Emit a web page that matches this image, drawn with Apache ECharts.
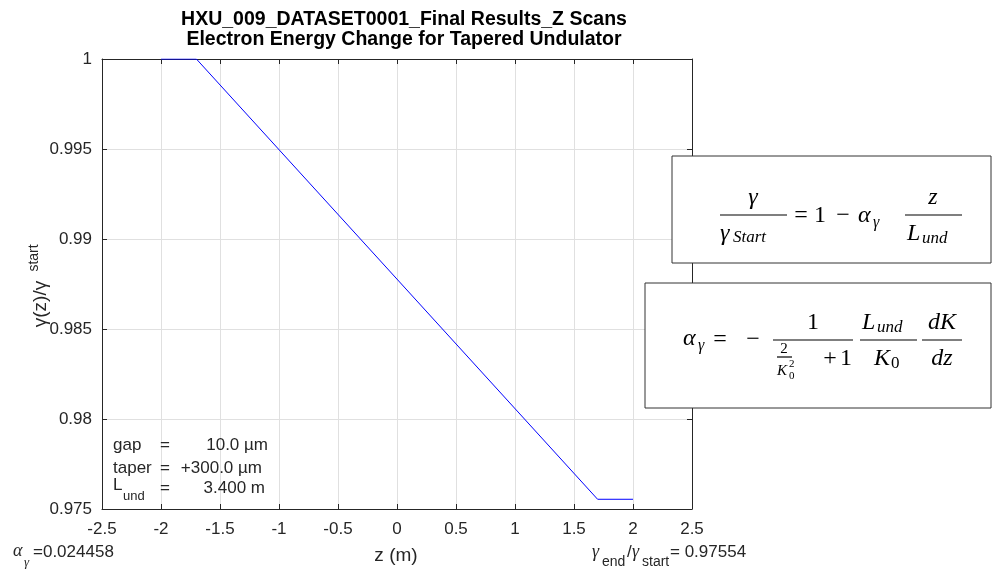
<!DOCTYPE html>
<html>
<head>
<meta charset="utf-8">
<script src="https://cdn.jsdelivr.net/npm/echarts@6/dist/echarts.min.js"></script>
<style>
  html, body { margin: 0; padding: 0; background: #fff; }
  #main { width: 992px; height: 571px; }
</style>
</head>
<body>
<div id="main"></div>
<script>
// z (m) и отношение gamma(z)/gamma_start
const zValues = [-2, -1.7, 1.7, 2];
const ratioValues = [1, 1, 0.97554, 0.97554];

// диапазоны осей
const xRange = [-2.5, 2.5, 0.5];
const yRange = [0.975, 1, 0.005];

// параметры в углу графика
const paramNames = ['gap', 'taper', 'L'];
const paramValues = ['10.0 µm', '+300.0 µm', '3.400 m'];
const alphaGamma = '=0.024458';
const gammaRatio = '= 0.97554';

const titleLines = ['HXU_009_DATASET0001_Final Results_Z Scans', 'Electron Energy Change for Tapered Undulator'];

const SANS = '"Liberation Sans", Arial, sans-serif';
const SERIF = '"Liberation Serif", "Times New Roman", serif';
const axisColor = '#262626';

let lineData = [];
zValues.forEach((z, i) => {
    lineData.push([z, ratioValues[i]]);
});

// текстовый элемент для graphic
function txt(x, y, s, font, align, extra) {
    return {
        type: 'text', x: x, y: y, z: 100, silent: true,
        style: Object.assign({
            text: s, font: font, fill: '#000',
            textAlign: align || 'left', textVerticalAlign: 'middle'
        }, extra || {})
    };
}
function bar(x1, x2, y) {
    return {
        type: 'line', z: 100, silent: true,
        shape: {x1: x1, y1: y, x2: x2, y2: y},
        style: {stroke: '#000', lineWidth: 1.2}
    };
}
function box(x, y, w, h) {
    return {
        type: 'rect', z: 90, silent: true,
        shape: {x: x, y: y, width: w, height: h},
        style: {fill: '#fff', stroke: '#333', lineWidth: 1}
    };
}

const mi = s => 'italic ' + s + 'px ' + SERIF;
const mr = s => s + 'px ' + SERIF;
const sf = s => s + 'px ' + SANS;

let graphics = [];

// заголовок
graphics.push(txt(404, 20, titleLines[0], 'bold 19.5px ' + SANS, 'center'));
graphics.push(txt(404, 40, titleLines[1], 'bold 19.5px ' + SANS, 'center'));

// подпись оси y (повернута)
graphics.push(Object.assign(txt(41, 304, 'γ(z)/γ', sf(19), 'center', {fill: axisColor}), {rotation: Math.PI / 2}));
graphics.push(Object.assign(txt(34, 258, 'start', sf(14), 'center', {fill: axisColor}), {rotation: Math.PI / 2}));

// подпись оси x
graphics.push(txt(396, 556, 'z (m)', sf(19), 'center', {fill: axisColor}));

// параметры внутри графика
const rowsY = [445, 468, 488];
graphics.push(txt(113, rowsY[0], paramNames[0], sf(17), 'left', {fill: axisColor}));
graphics.push(txt(113, rowsY[1], paramNames[1], sf(17), 'left', {fill: axisColor}));
graphics.push(txt(113, rowsY[2] - 3, paramNames[2], sf(17), 'left', {fill: axisColor}));
graphics.push(txt(123, rowsY[2] + 8, 'und', sf(13), 'left', {fill: axisColor}));
rowsY.forEach(y => graphics.push(txt(160, y, '=', sf(17), 'left', {fill: axisColor})));
graphics.push(txt(268, rowsY[0], paramValues[0], sf(17), 'right', {fill: axisColor}));
graphics.push(txt(262, rowsY[1], paramValues[1], sf(17), 'right', {fill: axisColor}));
graphics.push(txt(265, rowsY[2], paramValues[2], sf(17), 'right', {fill: axisColor}));

// подписи снизу
graphics.push(txt(13, 551, 'α', mi(18), 'left', {fill: axisColor}));
graphics.push(txt(24, 563, 'γ', mi(13), 'left', {fill: axisColor}));
graphics.push(txt(33, 552, alphaGamma, sf(17), 'left', {fill: axisColor}));

graphics.push(txt(592, 552, 'γ', mi(18), 'left', {fill: axisColor}));
graphics.push(txt(602, 562, 'end', sf(14), 'left', {fill: axisColor}));
graphics.push(txt(627, 552, '/', sf(17), 'left', {fill: axisColor}));
graphics.push(txt(632, 552, 'γ', mi(18), 'left', {fill: axisColor}));
graphics.push(txt(642, 562, 'start', sf(14), 'left', {fill: axisColor}));
graphics.push(txt(670, 552, gammaRatio, sf(17), 'left', {fill: axisColor}));

// формула 1
graphics.push(box(672, 156, 319, 107));
graphics.push(txt(753, 198, 'γ', mi(24), 'center'));
graphics.push(bar(720, 787, 215));
graphics.push(txt(720, 234, 'γ', mi(24), 'left'));
graphics.push(txt(733, 238, 'Start', mi(17), 'left'));
graphics.push(txt(801, 216, '=', mr(24), 'center'));
graphics.push(txt(820, 216, '1', mr(24), 'center'));
graphics.push(txt(843, 216, '−', mr(24), 'center'));
graphics.push(txt(858, 216, 'α', mi(24), 'left'));
graphics.push(txt(873, 223, 'γ', mi(16), 'left'));
graphics.push(txt(933, 198, 'z', mi(24), 'center'));
graphics.push(bar(905, 962, 215));
graphics.push(txt(907, 234, 'L', mi(24), 'left'));
graphics.push(txt(922, 239, 'und', mi(17), 'left'));

// формула 2
graphics.push(box(645, 283, 346, 125));
graphics.push(txt(683, 339, 'α', mi(24), 'left'));
graphics.push(txt(698, 346, 'γ', mi(16), 'left'));
graphics.push(txt(720, 340, '=', mr(24), 'center'));
graphics.push(txt(753, 340, '−', mr(24), 'center'));
graphics.push(bar(773, 853, 340));
graphics.push(txt(813, 323, '1', mr(24), 'center'));
graphics.push(txt(784, 349, '2', mr(15), 'center'));
graphics.push(bar(777, 792, 357));
graphics.push(txt(777, 371, 'K', mi(15), 'left'));
graphics.push(txt(789, 364, '2', mr(11), 'left'));
graphics.push(txt(789, 376, '0', mr(11), 'left'));
graphics.push(txt(830, 359, '+', mr(24), 'center'));
graphics.push(txt(846, 359, '1', mr(24), 'center'));
graphics.push(bar(860, 917, 340));
graphics.push(txt(862, 323, 'L', mi(24), 'left'));
graphics.push(txt(877, 328, 'und', mi(17), 'left'));
graphics.push(txt(874, 359, 'K', mi(24), 'left'));
graphics.push(txt(891, 364, '0', mr(17), 'left'));
graphics.push(bar(922, 962, 340));
graphics.push(txt(942, 323, 'dK', mi(24), 'center'));
graphics.push(txt(942, 359, 'dz', mi(24), 'center'));

let container = document.getElementById('main');
let chart = echarts.init(container, null, {renderer: 'canvas'});

const tickStyle = {inside: true, length: 5, lineStyle: {color: axisColor, width: 1}};
const lineStyle = {show: true, onZero: false, lineStyle: {color: axisColor, width: 1}};

const option = {
    animation: false,
    backgroundColor: '#fff',
    grid: {left: 102, right: 300, top: 59, bottom: 62, containLabel: false},
    xAxis: [
        {
            type: 'value', position: 'bottom',
            min: xRange[0], max: xRange[1], interval: xRange[2],
            axisLine: lineStyle, axisTick: tickStyle,
            axisLabel: {color: axisColor, fontSize: 17, fontFamily: SANS, margin: 12},
            splitLine: {show: true, lineStyle: {color: '#e0e0e0', width: 1}}
        },
        {
            type: 'value', position: 'top',
            min: xRange[0], max: xRange[1], interval: xRange[2],
            axisLine: lineStyle, axisTick: tickStyle,
            axisLabel: {show: false}, splitLine: {show: false}
        }
    ],
    yAxis: [
        {
            type: 'value', position: 'left',
            min: yRange[0], max: yRange[1], interval: yRange[2],
            axisLine: lineStyle, axisTick: tickStyle,
            axisLabel: {color: axisColor, fontSize: 17, fontFamily: SANS, margin: 10},
            splitLine: {show: true, lineStyle: {color: '#e0e0e0', width: 1}}
        },
        {
            type: 'value', position: 'right',
            min: yRange[0], max: yRange[1], interval: yRange[2],
            axisLine: lineStyle, axisTick: tickStyle,
            axisLabel: {show: false}, splitLine: {show: false}
        }
    ],
    series: [
        {
            type: 'line',
            xAxisIndex: 0, yAxisIndex: 0,
            data: lineData,
            showSymbol: false,
            lineStyle: {color: '#0000ff', width: 1},
            z: 3
        }
    ],
    graphic: graphics
};
chart.setOption(option);
</script>
</body>
</html>
